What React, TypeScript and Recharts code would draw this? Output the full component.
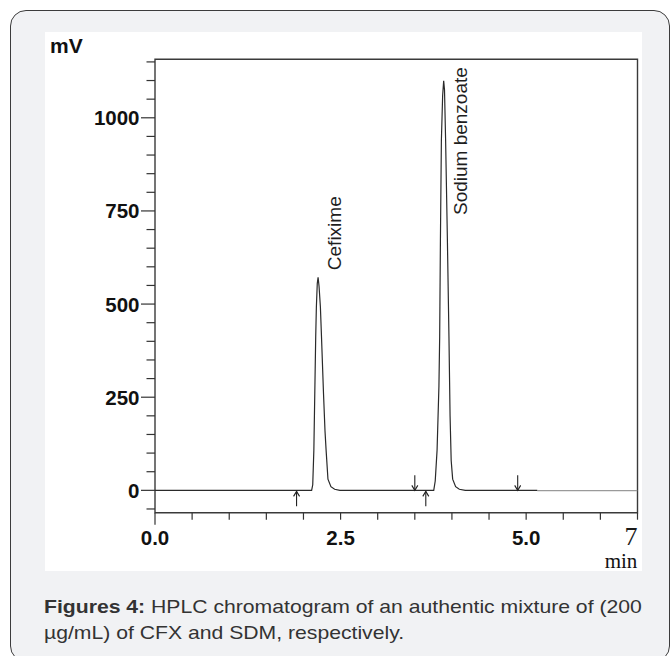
import React from "react";
import { ComposedChart, Line, Scatter, XAxis, YAxis, ReferenceArea } from "recharts";

// Chromatogram signal (time in min, response in mV)
const signalTimes = [0, 2.11, 2.125, 2.14, 2.165, 2.174, 2.186, 2.197, 2.21, 2.228, 2.243, 2.27, 2.29, 2.305, 2.33, 2.37, 2.42, 2.49, 3.755, 3.775, 3.8, 3.825, 3.835, 3.845, 3.858, 3.875, 3.889, 3.9, 3.915, 3.939, 3.96, 3.975, 3.99, 4.01, 4.05, 4.1, 4.18, 5.15];
const signalMv = [0, 0, 15, 108, 412, 493, 555, 572, 548, 493, 412, 260, 160, 108, 30, 10, 3, 0, 0, 25, 108, 280, 412, 672, 940, 1060, 1099, 1075, 940, 672, 412, 200, 80, 30, 10, 3, 0, 0];

// Trailing (grey) part of the trace
const tailTimes = [5.15, 6.5];
const tailMv = [-1, -1];

// Integration markers
const upArrowTimes = [1.907, 3.648];
const downArrowTimes = [3.5, 4.886];

// Peak names
const peakNames = ["Cefixime", "Sodium benzoate"];
const peakLabelTimes = [2.197, 3.889];
const peakLabelMv = [591, 739];

// Axes
const xDomain = [0, 6.5];
const yDomain = [-60, 1157];
const xTickValues = [0, 0.5, 1, 1.5, 2, 2.5, 3, 3.5, 4, 4.5, 5, 5.5, 6, 6.5];
const xLabelValues = [0, 2.5, 5, 6.5];
const xLabels = ["0.0", "2.5", "5.0", "7"];
const yTickValues = [-50, 0, 50, 100, 150, 200, 250, 300, 350, 400, 450, 500, 550, 600, 650, 700, 750, 800, 850, 900, 950, 1000, 1050, 1100, 1150];
const yLabelValues = [0, 250, 500, 750, 1000];
const yLabels = ["0", "250", "500", "750", "1000"];

const W = 671;
const H = 656;
const SANS = "'Liberation Sans', Arial, Helvetica, sans-serif";
const SERIF = "'Liberation Serif', 'Times New Roman', serif";

const renderXTick = (p: any) => {
  const v = p.payload.value;
  const x = p.x;
  const y = p.y;
  const idx = xLabelValues.indexOf(v);
  const len = v === 0 ? 12 : 7;
  const label = idx >= 0 ? xLabels[idx] : null;
  return (
    <g>
      <line x1={x} y1={y} x2={x} y2={y + len} stroke="#333" strokeWidth={1.2} />
      {label !== null && label === "7" && (
        <text x={x} y={y + 32.3} textAnchor="end" fontFamily={SERIF} fontSize={26} fill="#1a1a1a">
          {label}
        </text>
      )}
      {label !== null && label !== "7" && (
        <text x={x} y={y + 32.3} textAnchor="middle" fontFamily={SANS} fontWeight="bold" fontSize={20.5} fill="#111">
          {label}
        </text>
      )}
    </g>
  );
};

const renderYTick = (p: any) => {
  const v = p.payload.value;
  const idx = yLabelValues.indexOf(v);
  const len = idx >= 0 ? 14 : 8.5;
  return (
    <g>
      <line x1={p.x - len} y1={p.y} x2={p.x} y2={p.y} stroke="#333" strokeWidth={1.2} />
      {idx >= 0 && (
        <text x={p.x - 15.5} y={p.y + 7.5} textAnchor="end" fontFamily={SANS} fontWeight="bold" fontSize={20.5} fill="#111">
          {yLabels[idx]}
        </text>
      )}
    </g>
  );
};

const upArrowShape = (p: any) => {
  const { cx, cy } = p;
  return (
    <g stroke="#222" strokeWidth={1.1} fill="none">
      <line x1={cx} y1={cy + 16} x2={cx} y2={cy + 1} />
      <polyline points={`${cx - 3},${cy + 6} ${cx},${cy + 1} ${cx + 3},${cy + 6}`} />
    </g>
  );
};

const downArrowShape = (p: any) => {
  const { cx, cy } = p;
  return (
    <g stroke="#222" strokeWidth={1.1} fill="none">
      <line x1={cx} y1={cy - 15} x2={cx} y2={cy} />
      <polyline points={`${cx - 3},${cy - 5} ${cx},${cy} ${cx + 3},${cy - 5}`} />
    </g>
  );
};

const peakLabelShape = (p: any) => {
  const { cx, cy, payload } = p;
  return (
    <text
      transform={`translate(${cx + 23},${cy}) rotate(-90)`}
      fontFamily={SANS}
      fontSize={19}
      fill="#1e1e1e"
    >
      {payload.name}
    </text>
  );
};

export default function App() {
  const signalData = signalTimes.map((t, i) => ({ t, v: signalMv[i] }));
  const tailData = tailTimes.map((t, i) => ({ t, v: tailMv[i] }));
  const upData = upArrowTimes.map((t) => ({ t, v: 0 }));
  const downData = downArrowTimes.map((t) => ({ t, v: 0 }));
  const labelData = peakNames.map((name, i) => ({ t: peakLabelTimes[i], v: peakLabelMv[i], name }));

  return (
    <div style={{ position: "absolute", left: 0, top: 0, width: W, height: H, overflow: "hidden", background: "#fff" }}>
      <div
        style={{
          position: "absolute",
          left: 10,
          top: 10,
          width: 660,
          height: 652,
          boxSizing: "border-box",
          border: "1.5px solid #3c3c3c",
          borderRadius: 16,
          background: "#f1f2f4",
        }}
      />
      <div style={{ position: "absolute", left: 45, top: 32, width: 597, height: 539, background: "#fff" }} />
      <div style={{ position: "absolute", left: 0, top: 0 }}>
        <ComposedChart width={W} height={H} margin={{ top: 59.3, right: 33.5, bottom: 103.3, left: 95 }}>
          <XAxis
            dataKey="t"
            type="number"
            domain={xDomain}
            ticks={xTickValues}
            interval={0}
            height={40}
            tickSize={0}
            tickMargin={0}
            axisLine={false}
            tickLine={false}
            tick={renderXTick}
            allowDataOverflow
          />
          <YAxis
            type="number"
            domain={yDomain}
            ticks={yTickValues}
            interval={0}
            width={60}
            tickSize={0}
            tickMargin={0}
            axisLine={false}
            tickLine={false}
            tick={renderYTick}
            allowDataOverflow
          />
          <ReferenceArea
            x1={xDomain[0]}
            x2={xDomain[1]}
            y1={yDomain[0]}
            y2={yDomain[1]}
            fill="none"
            fillOpacity={0}
            stroke="#3a3a3a"
            strokeWidth={1.4}
          />
          <Line data={tailData} dataKey="v" stroke="#9a9a9a" strokeWidth={1.3} dot={false} activeDot={false} isAnimationActive={false} />
          <Line data={signalData} dataKey="v" stroke="#2a2a2a" strokeWidth={1.2} dot={false} activeDot={false} isAnimationActive={false} />
          <Scatter data={upData} dataKey="v" shape={upArrowShape} isAnimationActive={false} />
          <Scatter data={downData} dataKey="v" shape={downArrowShape} isAnimationActive={false} />
          <Scatter data={labelData} dataKey="v" shape={peakLabelShape} isAnimationActive={false} />
        </ComposedChart>
      </div>
      <svg width={W} height={H} style={{ position: "absolute", left: 0, top: 0, pointerEvents: "none" }}>
        <text x={50} y={53.3} fontFamily={SANS} fontWeight="bold" fontSize={21} fill="#111">
          mV
        </text>
        <text x={637.3} y={568.3} textAnchor="end" fontFamily={SERIF} fontSize={21} fill="#111">
          min
        </text>
        <text transform="translate(44,613.3) scale(1.115,1)" fontFamily={SANS} fontSize={19} fill="#333">
          <tspan fontWeight="bold">Figures 4:</tspan> HPLC chromatogram of an authentic mixture of (200
        </text>
        <text transform="translate(44,639) scale(1.115,1)" fontFamily={SANS} fontSize={19} fill="#333">
          µg/mL) of CFX and SDM, respectively.
        </text>
      </svg>
    </div>
  );
}
